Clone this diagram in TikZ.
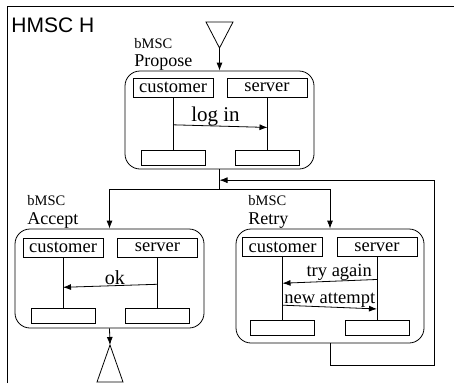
\documentclass[tikz,border=0pt]{standalone}
\usepackage{fontspec}
\setmainfont{Liberation Serif}
\newfontfamily\hmscfont{Liberation Sans}
\usetikzlibrary{arrows.meta,calc}

\begin{document}
\begin{tikzpicture}[x=1pt,y=-1pt,>={Latex[length=8pt,width=6pt]},line width=0.8pt]
  \tikzstyle{bmsc}=[draw,rounded corners=15pt,inner sep=0pt]
  \tikzstyle{inst}=[draw,inner sep=0pt,minimum width=80pt,minimum height=19pt,
                    font=\fontsize{18.5}{18}\selectfont]
  \tikzstyle{stop}=[draw,inner sep=0pt,minimum width=64pt,minimum height=15pt]
  \tikzstyle{bkind}=[anchor=base west,inner sep=0pt,font=\fontsize{14.5}{15}\selectfont]
  \tikzstyle{btitle}=[anchor=base west,inner sep=0pt,font=\fontsize{18}{18}\selectfont]
  \tikzstyle{msg}=[inner sep=1pt,font=\fontsize{18.5}{18}\selectfont]

  \useasboundingbox (0,0) rectangle (454,383);

  % frame
  \draw[line width=1.2pt] (7.5,383) |- (454,6.5);
  \node[anchor=base west,inner sep=0pt,font=\hmscfont\fontsize{21}{21}\selectfont]
       (H) at (11,32) {HMSC H};

  % bMSC Propose
  \node[bmsc,minimum width=189pt,minimum height=98pt] (P) at (219.5,120) {};
  \node[bkind] (Pk) at (134,48) {bMSC};
  \node[btitle] (Pn) at (134,66.5) {Propose};
  \node[inst] (PC) at (173,87.5) {customer};
  \node[inst] (PS) at (267,87.5) {server};
  \node[stop] (PCe) at (173,158) {};
  \node[stop] (PSe) at (267.5,158) {};
  \draw (PC) -- (PCe);
  \draw (PS.south -| PSe.north) -- (PSe);
  \draw[->] ($(PC.south)!0.52!(PCe.north)$)
        -- node[msg,above,inner sep=0pt,pos=0.45,font=\fontsize{21}{21}\selectfont] {log in}
           ($(PS.south -| PSe.north)!0.57!(PSe.north)$);

  % bMSC Accept
  \node[bmsc,minimum width=189pt,minimum height=99pt] (A) at (109.5,278.5) {};
  \node[bkind] (Ak) at (27,205) {bMSC};
  \node[btitle] (An) at (27,224) {Accept};
  \node[inst] (AC) at (63,247.5) {customer};
  \node[inst] (AS) at (157.5,247.5) {server};
  \node[stop] (ACe) at (63,316) {};
  \node[stop] (ASe) at (157.5,316) {};
  \draw (AC) -- (ACe);
  \draw (AS) -- (ASe);
  \draw[->] ($(AS.south)!0.53!(ASe.north)$)
        -- node[msg,above,pos=0.45,font=\fontsize{20}{20}\selectfont] {ok}
           ($(AC.south)!0.59!(ACe.north)$);

  % bMSC Retry
  \node[bmsc,minimum width=188pt,minimum height=114pt] (R) at (330,286) {};
  \node[bkind] (Rk) at (248,205) {bMSC};
  \node[btitle] (Rn) at (248,224) {Retry};
  \node[inst] (RC) at (282.5,247) {customer};
  \node[inst] (RS) at (377,247) {server};
  \node[stop] (RCe) at (282.5,327.5) {};
  \node[stop] (RSe) at (377,327.5) {};
  \draw (RC) -- (RCe);
  \draw (RS) -- (RSe);
  \draw[->] ($(RS.south)!0.36!(RSe.north)$)
        -- node[msg,above,pos=0.4,inner sep=0pt] {try again}
           ($(RC.south)!0.42!(RCe.north)$);
  \draw[->] ($(RC.south)!0.77!(RCe.north)$)
        -- node[msg,above,inner sep=-1pt] {new attempt}
           ($(RS.south)!0.83!(RSe.north)$);

  % start and end
  \coordinate (in) at (219.5,48);
  \coordinate (out) at (110,345);
  \draw (in) -- ++(-13.5,-26) -- ++(27,0) -- cycle;
  \draw (out) -- ++(-13,37) -- ++(26,0) -- cycle;

  % connectors
  \coordinate (J) at (219.5,189);
  \coordinate (back) at (434,365);
  \draw[->] (in) -- (P.north);
  \draw (P.south) -- (J);
  \draw[->] (J) -| (A.north);
  \draw[->] (J) -| (R.north);
  \draw[->] (R.south) |- (back) |- ($(P.south)!0.55!(J)$);
  \draw[->] (A.south) -- (out);
\end{tikzpicture}
\end{document}
